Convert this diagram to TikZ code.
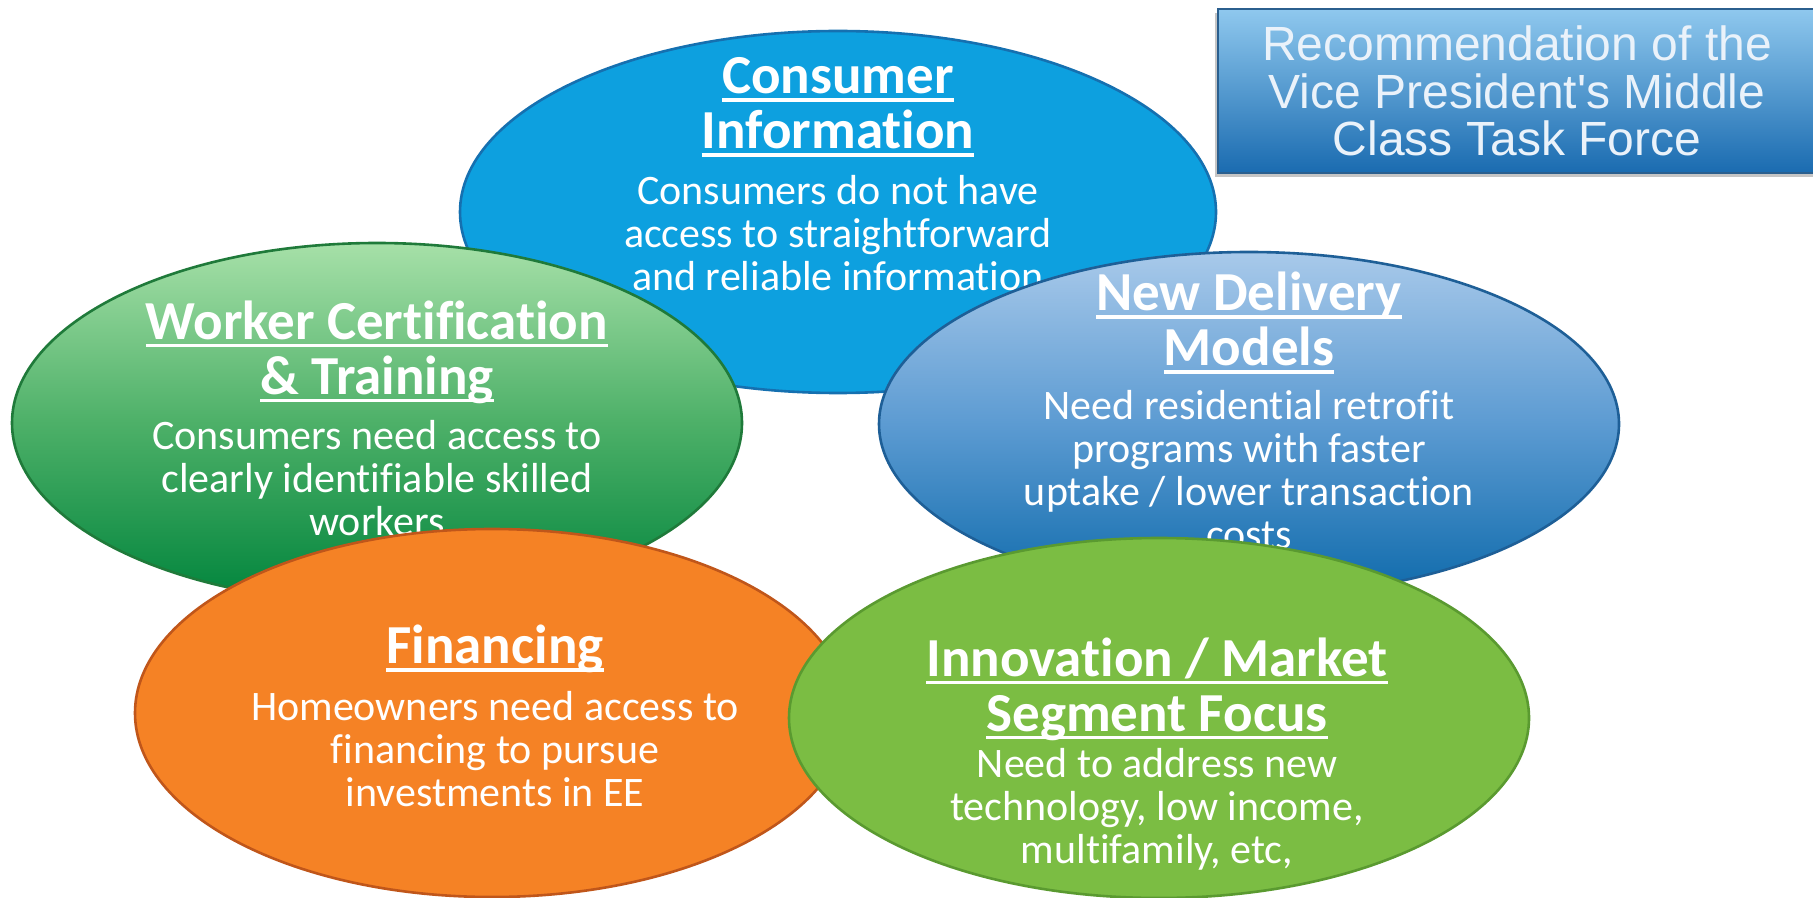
\documentclass[tikz,border=0pt]{standalone}
\usepackage{fontspec}
\setmainfont{Carlito}[Ligatures=NoCommon]
\newfontfamily\arialfont{Liberation Sans}
\usetikzlibrary{shapes.geometric,shadows}
\definecolor{ciFill}{HTML}{0DA0DF}
\definecolor{ciLine}{HTML}{1570B0}
\definecolor{wcTop}{HTML}{A6E0A8}
\definecolor{wcMid}{HTML}{4DB068}
\definecolor{wcBot}{HTML}{00843C}
\definecolor{wcLine}{HTML}{1F7A3A}
\definecolor{ndTop}{HTML}{A8C9EA}
\definecolor{ndMid}{HTML}{5C9BD2}
\definecolor{ndBot}{HTML}{0E6AAB}
\definecolor{ndLine}{HTML}{1E5F97}
\definecolor{fiFill}{HTML}{F58225}
\definecolor{fiLine}{HTML}{C0561A}
\definecolor{inFill}{HTML}{7BBD43}
\definecolor{inLine}{HTML}{5A9A30}
\definecolor{tbTop}{HTML}{8FC8EE}
\definecolor{tbBot}{HTML}{1A6BB0}
\definecolor{tbLine}{HTML}{2B5F8E}
\definecolor{tbText}{HTML}{EAF2FA}
\newcommand{\myul}[1]{\setbox0=\hbox{#1}\rlap{\rule[-0.15em]{\wd0}{0.07em}}\box0}
\tikzset{
  bubble/.style={ellipse, inner sep=0pt, outer sep=0pt, line width=1.3pt},
  headtxt/.style={text=white, align=center, inner sep=0pt,
    font=\fontsize{27.5}{27.5}\selectfont\bfseries},
  bodytxt/.style={text=white, align=center, inner sep=0pt,
    font=\fontsize{21}{21.5}\selectfont},
  titlebox/.style={rectangle, inner sep=0pt, line width=1.2pt, draw=tbLine,
    top color=tbTop, bottom color=tbBot, text=tbText, align=center,
    font=\arialfont\fontsize{24}{23.7}\selectfont,
    drop shadow={shadow xshift=-1.5pt, shadow yshift=-2pt, opacity=0.45}},
}
\begin{document}
\begin{tikzpicture}[x=0.5pt,y=-0.5pt]
\useasboundingbox (0,0) rectangle (1813,898);
\clip (0,0) rectangle (1813,898);
\fill[white] (0,0) rectangle (1813,898);

% Consumer Information
\node[bubble, draw=ciLine, fill=ciFill, minimum width=378pt, minimum height=181pt] (ci) at (838,212) {};
\node[headtxt] (cih) at (838,107) {\myul{Consumer}\\\myul{Information}};
\node[bodytxt] (cib) at (838,233) {Consumers do not have\\access to straightforward\\and reliable information};

% Worker Certification & Training
\node[bubble, draw=wcLine, top color=wcTop, bottom color=wcBot, middle color=wcMid, minimum width=365pt, minimum height=180pt] (wc) at (377,423) {};
\node[headtxt] (wch) at (377,352) {\myul{Worker Certification}\\\myul{\& Training}};
\node[bodytxt] (wcb) at (377,478) {Consumers need access to\\clearly identifiable skilled\\workers};

% New Delivery Models
\node[bubble, draw=ndLine, top color=ndTop, bottom color=ndBot, middle color=ndMid, minimum width=370pt, minimum height=172pt] (nd) at (1249,424) {};
\node[headtxt] (ndh) at (1249,323) {\myul{New Delivery}\\\myul{Models}};
\node[bodytxt] (ndb) at (1249,470) {Need residential retrofit\\programs with faster\\uptake / lower transaction\\costs};

% Financing
\node[bubble, draw=fiLine, fill=fiFill, minimum width=357pt, minimum height=184pt] (fi) at (492,713) {};
\node[headtxt] (fih) at (495,649) {\myul{Financing}};
\node[bodytxt] (fib) at (495,749) {Homeowners need access to\\financing to pursue\\investments in EE};

% Innovation / Market Segment Focus
\node[bubble, draw=inLine, fill=inFill, minimum width=370pt, minimum height=180pt] (in) at (1159,718) {};
\node[headtxt] (inh) at (1157,689) {\myul{Innovation / Market}\\\myul{Segment Focus}};
\node[bodytxt] (inb) at (1157,809) {Need to address new\\technology, low income,\\multifamily, etc,};

% Title box
\node[titlebox, minimum width=299pt, minimum height=82pt] (tb) at (1517,91)
  {Recommendation of the\\Vice President's Middle\\Class Task Force};
\end{tikzpicture}
\end{document}
